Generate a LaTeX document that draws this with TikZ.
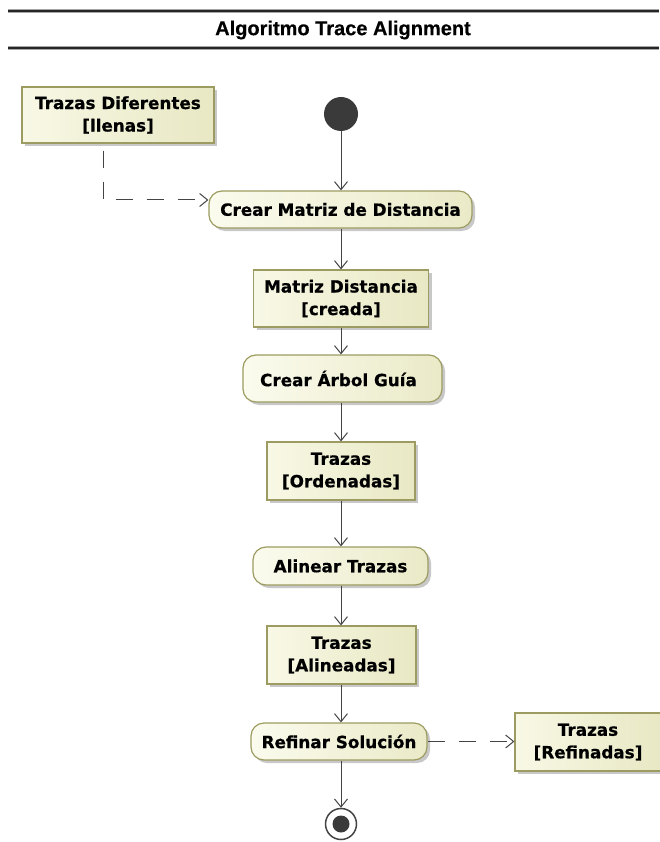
\documentclass[tikz,border=0pt]{standalone}
\usepackage{fontspec}
\setmainfont{DejaVu Sans}[BoldFeatures={FakeBold=0.6}]
\newfontfamily\titlefont{Liberation Sans}[BoldFeatures={FakeBold=0.4}]
\usetikzlibrary{arrows.meta,shadows,calc}
\definecolor{objfillA}{HTML}{F8F8E6}
\definecolor{objfillB}{HTML}{E8E8C4}
\definecolor{actfillA}{HTML}{FBFBEE}
\definecolor{actfillB}{HTML}{EAEAC8}
\definecolor{bordercol}{HTML}{9C9C62}
\definecolor{linecol}{HTML}{444444}
\definecolor{dotcol}{HTML}{3A3A3A}
\begin{document}
\begin{tikzpicture}[x=1pt,y=1pt,
  lbl/.style={font=\bfseries\fontsize{16.8}{22.5}\selectfont, text=black, align=center},
  objbox/.style={lbl, draw=bordercol, line width=1.2pt, left color=objfillA, right color=objfillB,
     rectangle, inner sep=0pt,
     drop shadow={shadow xshift=3pt, shadow yshift=-3pt, fill=gray!50, opacity=0.85}},
  actbox/.style={lbl, draw=bordercol, line width=1.2pt, left color=actfillA, right color=actfillB,
     rectangle, rounded corners=13pt, inner sep=0pt,
     drop shadow={shadow xshift=3pt, shadow yshift=-3pt, fill=gray!50, opacity=0.85}},
  flow/.style={draw=linecol, line width=1pt, -{Straight Barb[length=8pt,width=13pt,line width=1pt]}},
  objflow/.style={flow, dash pattern=on 17pt off 14pt},
  hdr/.style={draw=gray!70, line width=4pt}
]
\useasboundingbox (0,0) rectangle (659,-842);
\fill[white] (0,0) rectangle (659,-842);

% header
\draw[hdr] (8,-11) -- (659,-11);
\draw[draw=gray!30!black, line width=1.2pt] (8,-11) -- (659,-11);
\draw[hdr] (8,-48) -- (659,-48);
\draw[draw=gray!30!black, line width=1.2pt] (8,-48) -- (659,-48);
\node[font=\titlefont\bfseries\fontsize{20}{22}\selectfont] (title) at (343,-30) {Algoritmo Trace Alignment};

% nodes
\node[objbox, minimum width=192pt, minimum height=56pt] (td) at (118,-115) {Trazas Diferentes\\{}[llenas]};
\node[circle, fill=dotcol, minimum size=34pt, inner sep=0pt] (init) at (341,-114) {};
\node[actbox, minimum width=263pt, minimum height=37pt] (cmd) at (340.5,-209.5) {Crear Matriz de Distancia};
\node[objbox, minimum width=175pt, minimum height=57pt] (md) at (341,-298.5) {Matriz Distancia\\{}[creada]};
\node[actbox, minimum width=199pt, minimum height=47pt] (cag) at (342.5,-378.5) {\hspace*{-8pt}Crear Árbol Guía};
\node[objbox, minimum width=148pt, minimum height=58pt] (to) at (341,-471) {Trazas\\{}[Ordenadas]};
\node[actbox, minimum width=175pt, minimum height=38pt] (at) at (340.5,-566) {Alinear Trazas};
\node[objbox, minimum width=149pt, minimum height=58pt] (ta) at (341.5,-655) {Trazas\\{}[Alineadas]};
\node[actbox, minimum width=176pt, minimum height=37pt] (rs) at (339,-741.5) {Refinar Solución};
\node[objbox, minimum width=146pt, minimum height=58pt] (tr) at (588,-742) {Trazas\\{}[Refinadas]};
\node[circle, draw=linecol, line width=1.5pt, fill=white, minimum size=31pt, inner sep=0pt] (fin) at (341,-824) {};
\node[circle, fill=dotcol, minimum size=17pt, inner sep=0pt] (finin) at (fin.center) {};

% connectors
\coordinate (tdout) at ($(td.south)+(-15,-7)$);
\coordinate (cmdin) at ($(cmd.west)+(0,9.5)$);
\draw[objflow] (tdout) |- (cmdin);
\draw[flow] (init) -- (cmd.north -| init);
\draw[flow] (cmd.south -| init) -- (md.north -| init);
\draw[flow] (md.south -| init) -- (cag.north -| init);
\draw[flow] (cag.south -| init) -- (to.north -| init);
\draw[flow] (to.south -| init) -- (at.north -| init);
\draw[flow] (at.south -| init) -- (ta.north -| init);
\draw[flow] (ta.south -| init) -- (rs.north -| init);
\draw[flow] (rs.south -| init) -- (fin.north);
\draw[objflow] (rs.east) -- (rs.east -| tr.west);
\end{tikzpicture}
\end{document}
